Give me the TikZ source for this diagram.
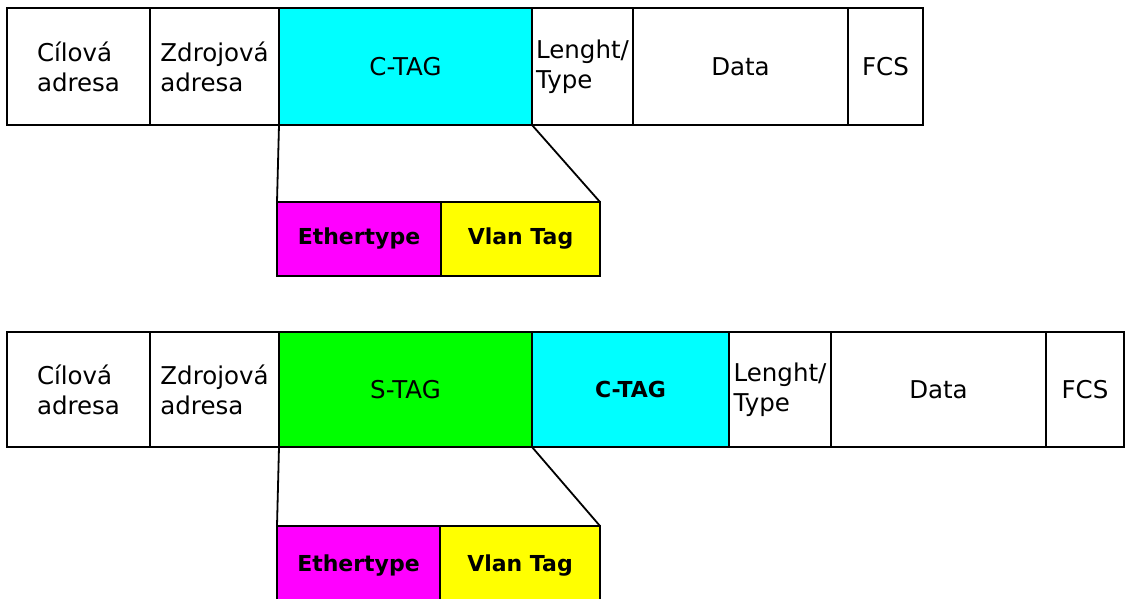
\documentclass[tikz,border=0pt]{standalone}
\usepackage{fontspec}
\setmainfont{DejaVu Sans}
\definecolor{tagcyan}{RGB}{0,255,255}
\definecolor{tagmagenta}{RGB}{255,0,255}
\definecolor{tagyellow}{RGB}{255,255,0}
\definecolor{taggreen}{RGB}{0,255,0}
\begin{document}
\begin{tikzpicture}[x=1pt,y=-1pt,
  cell/.style={draw=black, line width=1.8pt, outer sep=0pt, inner sep=0pt, anchor=north west, align=left,
     font=\fontsize{24.5}{30}\selectfont},
  bcell/.style={cell, font=\fontsize{22}{26}\selectfont\bfseries},
  link/.style={draw=black, line width=1.8pt}
]
\useasboundingbox (0,0) rectangle (1125,598);
% ---------- top frame ----------
\node[cell, minimum width=143, minimum height=117] (t1) at (7,8) {Cílová\\adresa};
\node[cell, minimum width=129, minimum height=117] (t2) at (150,8) {Zdrojová\\adresa};
\node[cell, fill=tagcyan, minimum width=253, minimum height=117] (t3) at (279,8) {C-TAG};
\node[cell, minimum width=101, minimum height=117] (t4) at (532,8) {Lenght/\\Type};
\node[cell, minimum width=215, minimum height=117] (t5) at (633,8) {Data};
\node[cell, minimum width=75, minimum height=117] (t6) at (848,8) {FCS};
\node[bcell, fill=tagmagenta, minimum width=164, minimum height=74] (te) at (277,202) {Ethertype};
\node[bcell, fill=tagyellow, minimum width=159, minimum height=74] (tv) at (441,202) {Vlan Tag};
\draw[link] (t3.south west) -- (te.north west);
\draw[link] (t3.south east) -- (tv.north east);
% ---------- bottom frame ----------
\node[cell, minimum width=143, minimum height=115] (b1) at (7,332) {Cílová\\adresa};
\node[cell, minimum width=129, minimum height=115] (b2) at (150,332) {Zdrojová\\adresa};
\node[cell, fill=taggreen, minimum width=253, minimum height=115] (b3) at (279,332) {S-TAG};
\node[bcell, fill=tagcyan, line width=2.4pt, minimum width=197, minimum height=115] (b4) at (532,332) {C-TAG};
\node[cell, minimum width=102, minimum height=115] (b5) at (729,332) {Lenght/\\Type};
\node[cell, minimum width=215, minimum height=115] (b6) at (831,332) {Data};
\node[cell, minimum width=78, minimum height=115] (b7) at (1046,332) {FCS};
\node[bcell, fill=tagmagenta, minimum width=163, minimum height=80] (be) at (277,526) {Ethertype};
\node[bcell, fill=tagyellow, minimum width=160, minimum height=80] (bv) at (440,526) {Vlan Tag};
\draw[link] (b3.south west) -- (be.north west);
\draw[link] (b3.south east) -- (bv.north east);
\end{tikzpicture}
\end{document}
